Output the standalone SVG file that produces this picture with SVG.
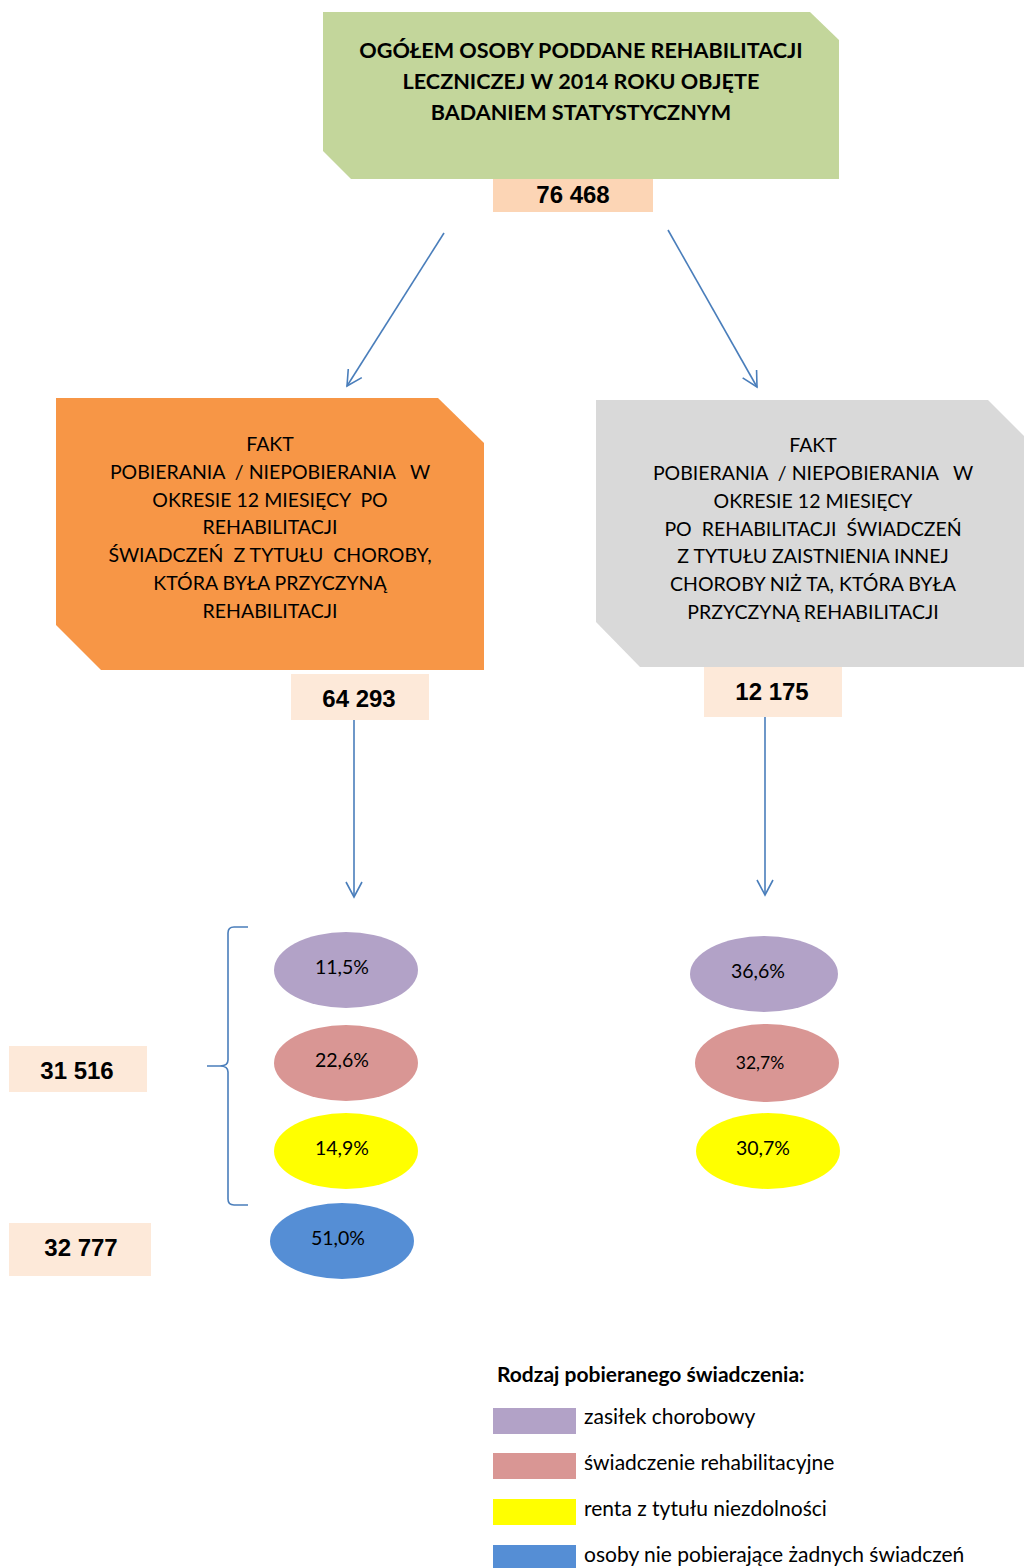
<svg xmlns="http://www.w3.org/2000/svg" width="1024" height="1568" viewBox="0 0 1024 1568">
<style>
text{font-family:Lato,"Open Sans","Liberation Sans",sans-serif;fill:#000;white-space:pre}
.t{font-size:21.6px;font-weight:bold;text-anchor:middle}
.b{font-size:19.5px;text-anchor:middle}
.n{font-family:"Liberation Sans",Arial,sans-serif;font-size:24px;font-weight:bold;text-anchor:middle}
.p{font-size:19.5px;text-anchor:middle}
.l{font-size:21px}
.c{stroke:#4A7EBB;stroke-width:1.6;fill:none}
</style>
<defs>
<marker id="ah" markerUnits="userSpaceOnUse" markerWidth="24" markerHeight="24" viewBox="-20 -12 24 24" refX="0" refY="0" orient="auto">
<path d="M-15,-8 L0,0 L-15,8" fill="none" stroke="#4A7EBB" stroke-width="1.6"/>
</marker>
</defs>
<g id="top">
<path d="M323,12 H810 L839,40 V179 H351 L323,151 Z" fill="#C3D69B"/>
<text class="t" x="581" y="58">OGÓŁEM OSOBY PODDANE REHABILITACJI</text>
<text class="t" x="581" y="89">LECZNICZEJ W 2014 ROKU OBJĘTE</text>
<text class="t" x="581" y="120">BADANIEM STATYSTYCZNYM</text>
</g>
<g id="n76468">
<rect x="493" y="179" width="160" height="33" fill="#FCD5B5"/>
<text class="n" x="573" y="203">76 468</text>
</g>
<g id="orange">
<path d="M56,398 H438 L484,443 V670 H101 L56,625 Z" fill="#F79646"/>
<text class="b" x="270" y="451">FAKT</text>
<text class="b" x="270" y="479">POBIERANIA  / NIEPOBIERANIA   W</text>
<text class="b" x="270" y="507">OKRESIE 12 MIESIĘCY  PO</text>
<text class="b" x="270" y="534">REHABILITACJI</text>
<text class="b" x="270" y="562">ŚWIADCZEŃ  Z TYTUŁU  CHOROBY,</text>
<text class="b" x="270" y="590">KTÓRA BYŁA PRZYCZYNĄ</text>
<text class="b" x="270" y="618">REHABILITACJI</text>
</g>
<g id="n64293">
<rect x="291" y="674" width="138" height="46" fill="#FDE9D9"/>
<text class="n" x="359" y="707">64 293</text>
</g>
<g id="gray">
<path d="M596,400 H988 L1024,436 V667 H640 L596,622 Z" fill="#D9D9D9"/>
<text class="b" x="813" y="452">FAKT</text>
<text class="b" x="813" y="480">POBIERANIA  / NIEPOBIERANIA   W</text>
<text class="b" x="813" y="508">OKRESIE 12 MIESIĘCY</text>
<text class="b" x="813" y="536">PO  REHABILITACJI  ŚWIADCZEŃ</text>
<text class="b" x="813" y="563">Z TYTUŁU ZAISTNIENIA INNEJ</text>
<text class="b" x="813" y="591">CHOROBY NIŻ TA, KTÓRA BYŁA</text>
<text class="b" x="813" y="619">PRZYCZYNĄ REHABILITACJI</text>
</g>
<g id="n12175">
<rect x="704" y="667" width="138" height="50" fill="#FDE9D9"/>
<text class="n" x="772" y="700">12 175</text>
</g>
<g id="connectors">
<path class="c" d="M444,233 L347,386" marker-end="url(#ah)"/>
<path class="c" d="M668,230 L757,387" marker-end="url(#ah)"/>
<path class="c" d="M354,720 L354,897" marker-end="url(#ah)"/>
<path class="c" d="M765,717 L765,895" marker-end="url(#ah)"/>
<path class="c" d="M248,927 H234 Q228,927 228,933 V1060 Q228,1066 220,1066 H207 H220 Q228,1066 228,1072 V1199 Q228,1205 234,1205 H248"/>
</g>
<g id="n31516">
<rect x="9" y="1046" width="138" height="46" fill="#FDE9D9"/>
<text class="n" x="77" y="1079">31 516</text>
</g>
<g id="n32777">
<rect x="9" y="1223" width="142" height="53" fill="#FDE9D9"/>
<text class="n" x="81" y="1256">32 777</text>
</g>
<g id="e1"><ellipse cx="346" cy="970" rx="72" ry="38" fill="#B2A2C7"/><text class="p" x="342" y="974">11,5%</text></g>
<g id="e2"><ellipse cx="346" cy="1063" rx="72" ry="38" fill="#D99694"/><text class="p" x="342" y="1067">22,6%</text></g>
<g id="e3"><ellipse cx="346" cy="1151" rx="72" ry="38" fill="#FFFF00"/><text class="p" x="342" y="1155">14,9%</text></g>
<g id="e4"><ellipse cx="342" cy="1241" rx="72" ry="38" fill="#558ED5"/><text class="p" x="338" y="1245">51,0%</text></g>
<g id="e5"><ellipse cx="764" cy="974" rx="74" ry="38" fill="#B2A2C7"/><text class="p" x="758" y="978">36,6%</text></g>
<g id="e6"><ellipse cx="767" cy="1063" rx="72" ry="39" fill="#D99694"/><text class="p" x="760" y="1069" style="font-size:17.5px">32,7%</text></g>
<g id="e7"><ellipse cx="768" cy="1151" rx="72" ry="38" fill="#FFFF00"/><text class="p" x="763" y="1155">30,7%</text></g>
<g id="legend">
<text class="l" x="497" y="1382" style="font-weight:bold">Rodzaj pobieranego świadczenia:</text>
<rect x="493" y="1408" width="83" height="26" fill="#B2A2C7"/>
<text class="l" x="584" y="1424">zasiłek chorobowy</text>
<rect x="493" y="1453" width="83" height="26" fill="#D99694"/>
<text class="l" x="584" y="1470">świadczenie rehabilitacyjne</text>
<rect x="493" y="1499" width="83" height="26" fill="#FFFF00"/>
<text class="l" x="584" y="1516">renta z tytułu niezdolności</text>
<rect x="493" y="1545" width="83" height="23" fill="#558ED5"/>
<text class="l" x="584" y="1562">osoby nie pobierające żadnych świadczeń</text>
</g>
</svg>
